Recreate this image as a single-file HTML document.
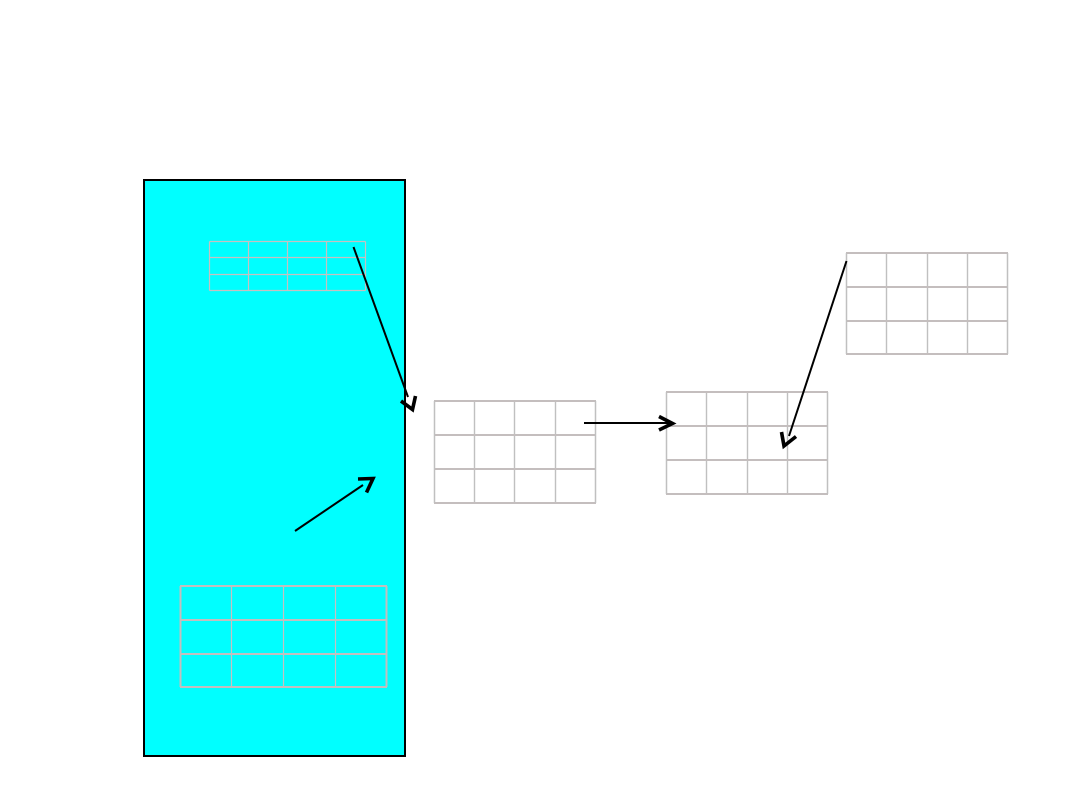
<!DOCTYPE html>
<html>
<head>
<meta charset="utf-8">
<style>
html,body{margin:0;padding:0;background:#fff;width:1080px;height:810px;overflow:hidden}
svg{display:block}
</style>
</head>
<body>
<svg width="1080" height="810" viewBox="0 0 1080 810" xmlns="http://www.w3.org/2000/svg">
<rect x="144" y="180" width="261" height="576" fill="#00ffff" stroke="#000" stroke-width="2"/>

<g fill="none" stroke="#c8c0c0" stroke-width="1.2">
<path d="M209.5 241.5H365.5M209.5 257.5H365.5M209.5 274.5H365.5M209.5 290.5H365.5M209.5 241.5V290.5M248.5 241.5V290.5M287.5 241.5V290.5M326.5 241.5V290.5M365.5 241.5V290.5"/>
<path d="M231.5 586V687M283.5 586V687M335.5 586V687"/>
</g>
<g fill="none" stroke="#c0c0c0" stroke-width="1.4">
<path d="M474.5 401V503M514.5 401V503M555.5 401V503"/>
<path d="M706.5 392V494M747.5 392V494M787.5 392V494"/>
<path d="M886.5 253V354M927.5 253V354M967.5 253V354"/>
</g>
<g fill="none" stroke="#c4bebe" stroke-width="2">
<path d="M180 586H387M180 620H387M180 654H387M180 687H387M180.5 586V687M386.5 586V687"/>
<path d="M434 401H596M434 435H596M434 469H596M434 503H596"/>
<path d="M666 392H828M666 426H828M666 460H828M666 494H828"/>
<path d="M846 253H1008M846 287H1008M846 321H1008M846 354H1008"/>
</g>
<g fill="none" stroke="#c0c0c0" stroke-width="1.5">
<path d="M434.5 401V503M595.5 401V503"/>
<path d="M666.5 392V494M827.5 392V494"/>
<path d="M846.5 253V354M1007.5 253V354"/>
</g>

<g fill="none" stroke="#000" stroke-width="2">
<path d="M353.5 247L408 397"/>
<path d="M295 531L363 485"/>
<path d="M584 423H670"/>
<path d="M846.5 261L789 436"/>
</g>
<g fill="none" stroke="#000" stroke-width="3.6">
<path d="M401 401L412.5 409.5L415.5 396"/>
<path d="M358 479L373 478.5L366.5 492.5"/>
<path d="M659 416.5L672.5 423.5L659 430"/>
<path d="M781.5 432L784 446L796 436.5"/>
</g>
</svg>
</body>
</html>
